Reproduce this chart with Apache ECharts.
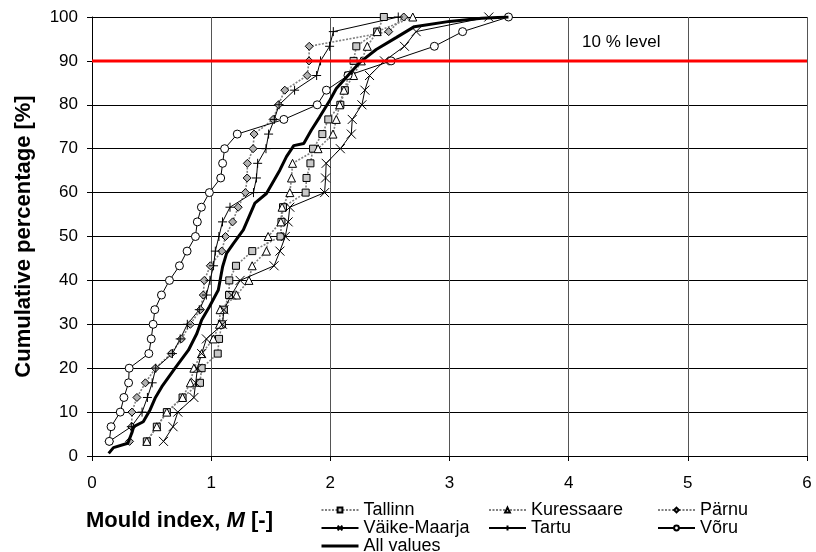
<!DOCTYPE html>
<html>
<head>
<meta charset="utf-8">
<script src="https://cdn.jsdelivr.net/npm/echarts@6/dist/echarts.min.js"></script>
<style>html,body{margin:0;padding:0;background:#fff}#c{width:816px;height:552px}</style>
</head>
<body>
<div id="c"></div>
<script>
var FONT = 'Liberation Sans, Arial, Helvetica, sans-serif';
var PCT = [3.33,6.67,10,13.33,16.67,20,23.33,26.67,30,33.33,36.67,40,43.33,46.67,50,53.33,56.67,60,63.33,66.67,70,73.33,76.67,80,83.33,86.67,90,93.33,96.67,100];
var TALLINN = [0.46,0.544,0.628,0.76,0.906,0.92,1.055,1.066,1.09,1.107,1.15,1.152,1.208,1.345,1.582,1.59,1.603,1.793,1.8,1.833,1.855,1.933,1.983,2.084,2.122,2.15,2.195,2.218,2.393,2.449];
var KURESSAARE = [0.46,0.544,0.628,0.76,0.825,0.855,0.92,1.018,1.07,1.075,1.213,1.317,1.344,1.464,1.478,1.585,1.595,1.66,1.674,1.683,1.897,2.022,2.05,2.078,2.114,2.195,2.26,2.31,2.393,2.692];
var PARNU = [0.315,0.333,0.335,0.377,0.448,0.532,0.665,0.75,0.825,0.91,0.934,0.942,0.993,1.089,1.12,1.18,1.227,1.287,1.302,1.304,1.352,1.36,1.52,1.565,1.618,1.806,1.821,1.823,2.49,2.616];
var VAIKE = [0.6,0.68,0.72,0.855,0.87,0.885,0.92,0.96,1.095,1.107,1.17,1.243,1.528,1.577,1.622,1.646,1.66,1.952,1.96,1.965,2.084,2.176,2.184,2.265,2.29,2.329,2.454,2.622,2.72,3.33];
var TARTU = [0.145,0.33,0.42,0.465,0.505,0.535,0.675,0.74,0.8,0.9,0.96,0.99,1.02,1.035,1.065,1.095,1.158,1.355,1.38,1.39,1.46,1.482,1.53,1.57,1.70,1.885,1.918,1.994,2.025,2.57];
var VORU = [0.145,0.16,0.237,0.268,0.307,0.312,0.477,0.497,0.513,0.527,0.583,0.65,0.734,0.798,0.868,0.884,0.918,0.985,1.08,1.096,1.113,1.219,1.61,1.89,1.967,2.148,2.51,2.873,3.11,3.495];
var ALL_M = [0.14,0.18,0.3,0.335,0.35,0.43,0.487,0.53,0.586,0.697,0.809,0.88,0.92,0.985,1.06,1.096,1.13,1.186,1.27,1.367,1.464,1.576,1.632,1.693,1.777,1.84,1.91,1.995,2.05,2.148,2.245,2.385,2.552,2.705,3.0,3.27,3.495];
var ALL_P = [0.6,1.9,2.9,5.3,6.7,7.8,10.5,13.2,15.8,20,24.1,27.9,31,34,37.8,43.1,46.2,48.4,51.5,57.6,59.8,65.1,68.2,70.7,71.2,74.2,77.2,81,83.7,86.7,89.6,92.6,95.3,97.8,99,99.7,100];
var LEVEL = 90;
var X_TICKS = [0,1,2,3,4,5,6];
var Y_TICKS = [0,10,20,30,40,50,60,70,80,90,100];

function pairs(xs, ys){ return xs.map(function(x,i){ return [x, ys[i]]; }); }

var CROSS = 'path://M0,0L10,10M10,0L0,10';
var PLUS = 'path://M5,0L5,10M0,5L10,5';

function dottedSeries(name, xs, symbol, fill, size){
  return {
    name: name, type: 'line', data: pairs(xs, PCT), symbol: symbol, symbolSize: size,
    lineStyle: {color: '#808080', width: 1.6, type: [2,1.5]},
    itemStyle: {color: fill, borderColor: '#000', borderWidth: 1},
    z: 3
  };
}
function solidSeries(name, xs, symbol, fill, size){
  return {
    name: name, type: 'line', data: pairs(xs, PCT), symbol: symbol, symbolSize: size,
    lineStyle: {color: '#000', width: 1},
    itemStyle: {color: fill, borderColor: '#000', borderWidth: 1},
    z: 3
  };
}

var chart = echarts.init(document.getElementById('c'), null, {renderer: 'canvas'});
var legendText = {fontFamily: FONT, fontSize: 18, color: '#000', lineHeight: 15.5};
function legendBox(left, names){
  return {left: left, top: 501, height: 60, orient: 'vertical', itemWidth: 37, itemHeight: 6, itemGap: 0,
          data: names, textStyle: legendText, padding: 0};
}
var option = {
  animation: false,
  grid: {left: 92, right: 9, top: 17, bottom: 96, containLabel: false},
  xAxis: {
    type: 'value', min: X_TICKS[0], max: X_TICKS[X_TICKS.length-1], interval: 1,
    axisLine: {lineStyle: {color: '#000', width: 1}},
    axisTick: {show: true, length: 5, lineStyle: {color: '#000'}},
    axisLabel: {fontFamily: FONT, fontSize: 17, color: '#000', margin: 19},
    splitLine: {show: true, lineStyle: {color: '#555', width: 1}}
  },
  yAxis: {
    type: 'value', min: Y_TICKS[0], max: Y_TICKS[Y_TICKS.length-1], interval: 10,
    name: 'Cumulative percentage [%]', nameLocation: 'middle', nameGap: 57,
    nameTextStyle: {fontFamily: FONT, fontSize: 22, fontWeight: 'bold', color: '#000'},
    axisLine: {show: true, lineStyle: {color: '#000', width: 1}},
    axisTick: {show: true, length: 5, lineStyle: {color: '#000'}},
    axisLabel: {fontFamily: FONT, fontSize: 17, color: '#000', margin: 14},
    splitLine: {show: true, lineStyle: {color: '#000', width: 1}}
  },
  legend: [
    legendBox(320, ['Tallinn','Väike-Maarja',{name: 'All values', itemStyle: {opacity: 0}, lineStyle: {width: 3, color: '#000'}}]),
    legendBox(488, ['Kuressaare','Tartu']),
    legendBox(657, ['Pärnu','Võru'])
  ],
  series: [
    dottedSeries('Tallinn', TALLINN, 'rect', '#c8c8c8', 7),
    dottedSeries('Kuressaare', KURESSAARE, 'triangle', '#fff', 8),
    dottedSeries('Pärnu', PARNU, 'diamond', '#b0b0b0', 8),
    solidSeries('Väike-Maarja', VAIKE, CROSS, 'rgba(0,0,0,0)', 9),
    solidSeries('Tartu', TARTU, PLUS, 'rgba(0,0,0,0)', 9),
    solidSeries('Võru', VORU, 'circle', '#fff', 8),
    {
      name: 'All values', type: 'line', data: pairs(ALL_M, ALL_P), symbol: 'none',
      lineStyle: {color: '#000', width: 3}, itemStyle: {color: '#000'}, z: 4
    },
    {
      name: 'level', type: 'line', data: [[X_TICKS[0], LEVEL], [X_TICKS[X_TICKS.length-1], LEVEL]],
      symbol: 'none', lineStyle: {color: '#ff0000', width: 3}, itemStyle: {color: '#ff0000'}, z: 5
    }
  ],
  graphic: [
    {type: 'text', left: 582, top: 34, style: {text: '10 % level', font: '17px ' + FONT, fill: '#000'}},
    {type: 'text', left: 86, top: 510, style: {
      text: '{b|Mould index, }{i|M}{b| [-]}',
      rich: {
        b: {fontFamily: FONT, fontSize: 22, fontWeight: 'bold', fill: '#000', color: '#000'},
        i: {fontFamily: FONT, fontSize: 22, fontWeight: 'bold', fontStyle: 'italic', fill: '#000', color: '#000'}
      }
    }}
  ]
};
chart.setOption(option);
</script>
</body>
</html>
